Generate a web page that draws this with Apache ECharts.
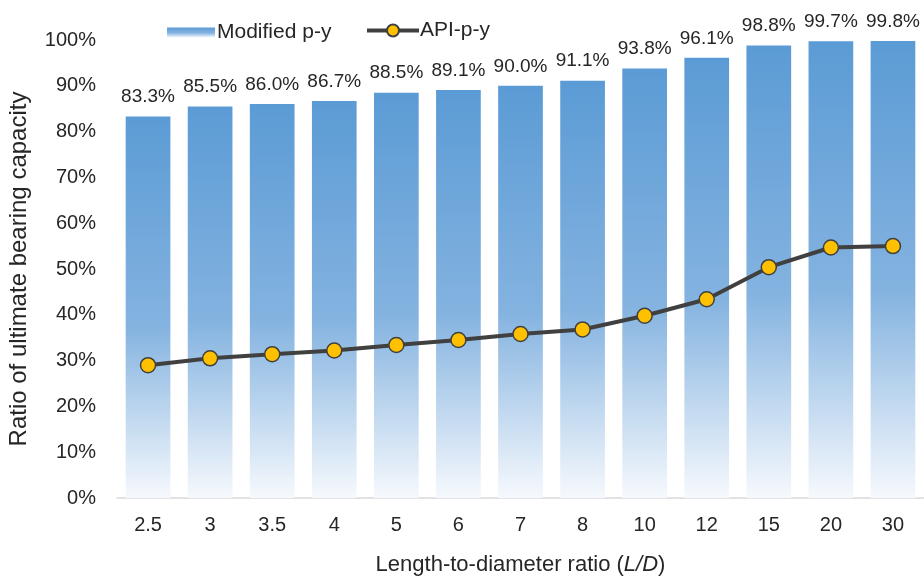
<!DOCTYPE html>
<html>
<head>
<meta charset="utf-8">
<script src="https://cdn.jsdelivr.net/npm/echarts@6/dist/echarts.min.js"></script>
<style>
  html, body { margin: 0; padding: 0; background: #ffffff; }
  #chart { width: 924px; height: 579px; }
</style>
</head>
<body>
<div id="chart"></div>
<script>
// Length-to-diameter ratios (L/D)
const categories = ['2.5', '3', '3.5', '4', '5', '6', '7', '8', '10', '12', '15', '20', '30'];
// Ratio of ultimate bearing capacity, %
const modifiedPY = [83.3, 85.5, 86.0, 86.7, 88.5, 89.1, 90.0, 91.1, 93.8, 96.1, 98.8, 99.7, 99.8];
const apiPY = [29.0, 30.5, 31.4, 32.2, 33.4, 34.5, 35.8, 36.8, 39.8, 43.4, 50.4, 54.7, 55.0];
const yTicks = { min: 0, max: 100, interval: 10 };

const FONT = '"Liberation Sans", Arial, sans-serif';
const TEXT = '#262626';

const barFill = new echarts.graphic.LinearGradient(0, 0, 0, 1, [
  { offset: 0, color: '#5b9bd5' },
  { offset: 0.55, color: '#84b3e0' },
  { offset: 1, color: '#f6f9fd' }
]);

const chart = echarts.init(document.getElementById('chart'), null, { renderer: 'canvas' });
chart.setOption({
  backgroundColor: '#ffffff',
  animation: false,
  textStyle: { fontFamily: FONT },
  legend: [
    {
      top: 17,
      left: 162,
      itemWidth: 48,
      itemHeight: 10,
      textStyle: { fontSize: 21, color: TEXT, fontFamily: FONT, padding: [0, 0, 0, -3] },
      data: [{ name: 'Modified p-y', icon: 'rect' }]
    },
    {
      top: 15,
      left: 360,
      itemWidth: 52,
      itemHeight: 15,
      lineStyle: { width: 4, color: '#404040' },
      textStyle: { fontSize: 21, color: TEXT, fontFamily: FONT, padding: [0, 0, 0, -4] },
      data: [{ name: 'API-p-y' }]
    }
  ],
  grid: { left: 117, right: 0, top: 40, bottom: 81, containLabel: false, outerBoundsMode: 'none' },
  xAxis: {
    type: 'category',
    data: categories,
    axisLine: { lineStyle: { color: '#d9d9d9', width: 1.5 } },
    axisTick: { show: false },
    axisLabel: { fontSize: 20, color: TEXT, margin: 17, fontFamily: FONT },
    name: 'Length-to-diameter ratio ({i|L/D})',
    nameLocation: 'middle',
    nameGap: 56,
    nameTextStyle: {
      fontSize: 22, color: TEXT, fontFamily: FONT,
      rich: { i: { fontSize: 22, fontStyle: 'italic', color: TEXT, fontFamily: FONT } }
    }
  },
  yAxis: {
    type: 'value',
    min: yTicks.min,
    max: yTicks.max,
    interval: yTicks.interval,
    splitLine: { show: false },
    axisLine: { show: false },
    axisTick: { show: false },
    axisLabel: { formatter: '{value}%', fontSize: 20, color: TEXT, margin: 21, fontFamily: FONT },
    name: 'Ratio of ultimate bearing capacity',
    nameLocation: 'middle',
    nameGap: 86,
    nameTextStyle: { fontSize: 24, color: TEXT, fontFamily: FONT }
  },
  series: [
    {
      name: 'Modified p-y',
      type: 'bar',
      data: modifiedPY,
      barWidth: '72%',
      itemStyle: { color: barFill },
      label: {
        show: true,
        position: 'top',
        distance: 10,
        formatter: p => p.value.toFixed(1) + '%',
        fontSize: 19,
        color: TEXT,
        fontFamily: FONT
      }
    },
    {
      name: 'API-p-y',
      type: 'line',
      data: apiPY,
      symbol: 'circle',
      symbolSize: 15,
      lineStyle: { color: '#404040', width: 4 },
      itemStyle: { color: '#ffc000', borderColor: '#404040', borderWidth: 1.5 },
      z: 5
    }
  ]
});
</script>
</body>
</html>
